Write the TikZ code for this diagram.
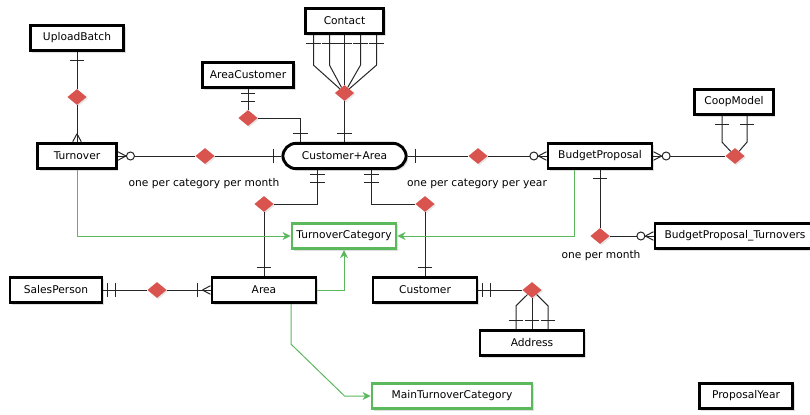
\documentclass[tikz,border=0pt]{standalone}
\usepackage{fontspec}
\setmainfont{DejaVu Sans}
\usetikzlibrary{shapes.geometric}
\usetikzlibrary{shadows}
\usetikzlibrary{arrows.meta}
\usetikzlibrary{calc}
\usetikzlibrary{decorations.markings}
\definecolor{relred}{RGB}{217,83,79}
\definecolor{catgreen}{RGB}{92,184,92}

\begin{document}
\begin{tikzpicture} [
        x=0.75pt, y=-0.75pt,
        font=\fontsize{8}{9.6}\selectfont,
        entity/.style={draw=black, rectangle, line width=2.2pt, fill=white, minimum height=19pt, inner sep=2pt,
            drop shadow={shadow xshift=1.5pt, shadow yshift=-1.5pt, opacity=0.25}},
        category/.style={entity, draw=catgreen},
        rel/.style={diamond, fill=relred, minimum width=14.5pt, minimum height=12pt, inner sep=0pt,
            drop shadow={shadow xshift=1pt, shadow yshift=-1pt, opacity=0.2}},
        link/.style={draw=black!85, line width=0.75pt},
        catlink/.style={draw=catgreen, line width=0.75pt, -{Stealth[length=6pt,width=6pt]}},
        tickat/.style={postaction={decorate, decoration={markings, mark=at position #1 with
            {\draw[black!85, line width=0.75pt] (0,-5.5pt) -- (0,5.5pt);}}}},
        crowfoot/.style={postaction={decorate, decoration={markings, mark=at position -0.1pt with
            {\draw[black!85, line width=0.75pt] (-6pt,0) -- (0,3.2pt) (-6pt,0) -- (0,-3.2pt);}}}},
        oneend/.style={tickat=-6pt},
        twoend/.style={tickat=-3pt, tickat=-9pt},
        manyend/.style={crowfoot},
        zmanyend/.style={crowfoot, postaction={decorate, decoration={markings, mark=at position -9.5pt with
            {\draw[black!85, line width=0.75pt, fill=white] (0,0) circle (3pt);}}}},
        omanyend/.style={crowfoot, tickat=-10pt} ]
    \useasboundingbox (0,0) rectangle (810,414);

    \node[entity, minimum width=70pt] (ub) at (77,38) {UploadBatch};
    \node[entity, minimum width=59pt] (ct) at (344.5,21) {Contact};
    \node[entity, minimum width=68.5pt] (acu) at (248,75) {AreaCustomer};
    \node[entity, minimum width=59pt] (cm) at (734,102) {CoopModel};
    \node[entity, minimum width=59pt] (tv) at (77,156) {Turnover};
    \node[entity, rounded corners=10pt, minimum width=92.5pt] (ca) at (344.5,156) {Customer+Area};
    \node[entity, minimum width=78pt] (bp) at (600,156) {BudgetProposal};
    \node[category, minimum width=78pt] (tc) at (344,236) {TurnoverCategory};
    \node[entity, minimum width=120pt] (bt) at (735,236) {BudgetProposal\_Turnovers};
    \node[entity, minimum width=69pt] (sp) at (56,290) {SalesPerson};
    \node[entity, minimum width=78pt] (ar) at (264,290) {Area};
    \node[entity, minimum width=78pt] (cu) at (425,290) {Customer};
    \node[entity, minimum width=78pt] (ad) at (532,343) {Address};
    \node[category, minimum width=120pt] (mtc) at (452,396) {MainTurnoverCategory};
    \node[entity, minimum width=70pt] (py) at (746,396) {ProposalYear};

    \node[rel] (dU) at (77,97) {};
    \node[rel] (dT) at (205,156) {};
    \node[rel] (dC) at (344.5,93) {};
    \node[rel] (dAC) at (248,118) {};
    \node[rel] (dB) at (478,156) {};
    \node[rel] (dCM) at (735,156) {};
    \node[rel] (dA) at (264,204) {};
    \node[rel] (dCu) at (425,204) {};
    \node[rel] (dBT) at (600,236) {};
    \node[rel] (dS) at (157,290) {};
    \node[rel] (dAd) at (532,290) {};

    \node (l1) at (204,184) {one per category per month};
    \node (l2) at (477,184) {one per category per year};
    \node (l3) at (601,256) {one per month};

    \draw[link, oneend] (dU) -- (ub);
    \draw[link, manyend] (dU) -- (tv);
    \draw[link, zmanyend] (dT) -- (tv);
    \draw[link, oneend] (dT) -- (ca);
    \foreach \dx in {-31,-15,0,16,32}
        \draw[link, oneend] (dC) -- ($(ct.south)+(\dx,30)$) -- ($(ct.south)+(\dx,0)$);
    \draw[link, oneend] (dC) -- (ca);
    \draw[link, twoend] (dAC) -- (acu);
    \draw[link, oneend] (dAC) -| ($(ca.north)+(-44,0)$);
    \draw[link, oneend] (dB) -- (ca);
    \draw[link, zmanyend] (dB) -- (bp);
    \draw[link, zmanyend] (dCM) -- (bp);
    \draw[link, oneend] (dCM) -- ($(cm.south)+(-12,26)$) -- ($(cm.south)+(-12,0)$);
    \draw[link, oneend] (dCM) -- ($(cm.south)+(13,26)$) -- ($(cm.south)+(13,0)$);
    \draw[link, twoend] (dA) -| ($(ca.south)+(-27,0)$);
    \draw[link, oneend] (dA) -- (ar);
    \draw[link, twoend] (dCu) -| ($(ca.south)+(27,0)$);
    \draw[link, oneend] (dCu) -- (cu);
    \draw[link, oneend] (dBT) -- (bp);
    \draw[link, zmanyend] (dBT) -- (bt);
    \draw[link, twoend] (dS) -- (sp);
    \draw[link, omanyend] (dS) -- (ar);
    \draw[link, twoend] (dAd) -- (cu);
    \draw[link, oneend] (dAd) -- ($(ad.north)+(-16,-23)$) -- ($(ad.north)+(-16,0)$);
    \draw[link, oneend] (dAd) -- (ad);
    \draw[link, oneend] (dAd) -- ($(ad.north)+(16,-23)$) -- ($(ad.north)+(16,0)$);

    \draw[catlink] (tv) |- (tc);
    \draw[catlink] ($(bp.south)+(-26,0)$) |- (tc);
    \draw[catlink] (ar) -| (tc);
    \draw[catlink] ($(ar.south)+(27,0)$) -- ++(0,40) -- ($(mtc.west)+(-26,0)$) -- (mtc);
\end{tikzpicture}
\end{document}
